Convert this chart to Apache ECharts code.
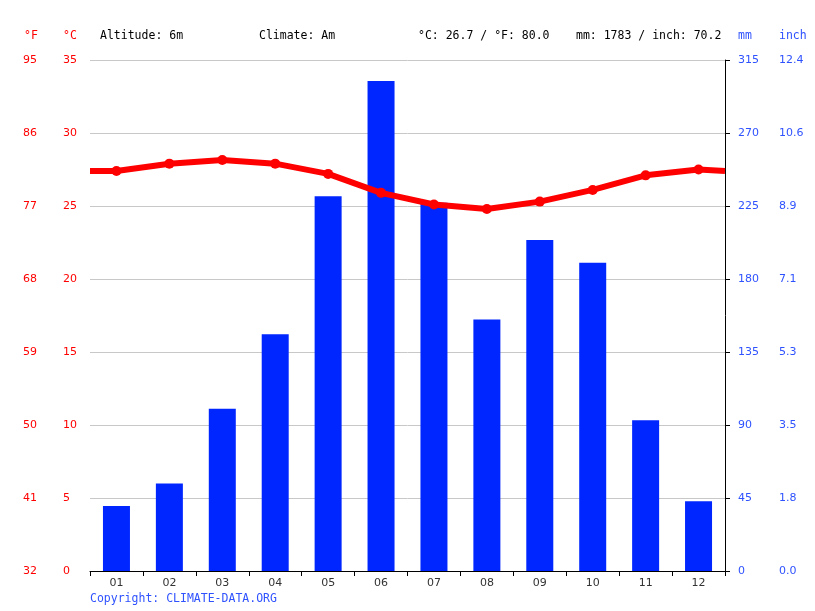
<!DOCTYPE html>
<html>
<head>
<meta charset="utf-8">
<script src="https://cdn.jsdelivr.net/npm/echarts@6/dist/echarts.min.js"></script>
<style>
  html, body { margin: 0; padding: 0; background: #fff; }
  #chart { width: 815px; height: 611px; }
</style>
</head>
<body>
<div id="chart"></div>
<script>
// monthly climate data
var months = ['01', '02', '03', '04', '05', '06', '07', '08', '09', '10', '11', '12'];
var rainMm = [40, 54, 100, 146, 231, 302, 227, 155, 204, 190, 93, 43];
var tempC = [27.4, 27.9, 28.15, 27.9, 27.2, 25.9, 25.1, 24.8, 25.3, 26.1, 27.1, 27.5];
var edgeTempC = 27.4; // where the line meets the plot edges

var altitude = 'Altitude: 6m';
var climate = 'Climate: Am';
var tempSummary = '°C: 26.7 / °F: 80.0';
var rainSummary = 'mm: 1783 / inch: 70.2';

var red = '#ff0000';
var blue = '#0026ff';
var lightBlue = '#2f52ff';
var mono = 'DejaVu Sans Mono';

var myChart = echarts.init(document.getElementById('chart'));

// line runs from the left edge to the right edge of the plot
var lineData = [[0, edgeTempC]];
tempC.forEach(function (t, i) { lineData.push([i + 0.5, t]); });
lineData.push([12, edgeTempC]);

function headerText(x, text, color) {
    return {
        type: 'text', left: x, top: 30,
        style: { text: text, fill: color || '#000', font: '11.5px "' + mono + '"' }
    };
}

var option = {
    backgroundColor: '#fff',
    animation: false,
    grid: { left: 90, right: 90, top: 60, bottom: 40 },
    graphic: [
        headerText(24, '°F', red),
        headerText(63, '°C', red),
        headerText(100, altitude),
        headerText(259, climate),
        headerText(418, tempSummary),
        headerText(576, rainSummary),
        headerText(738, 'mm', lightBlue),
        headerText(779, 'inch', lightBlue),
        {
            type: 'text', left: 90, top: 593,
            style: { text: 'Copyright: CLIMATE-DATA.ORG', fill: lightBlue, font: '11.5px "' + mono + '"' }
        }
    ],
    xAxis: [
        {
            type: 'category',
            data: months,
            boundaryGap: true,
            axisLine: { lineStyle: { color: '#000', width: 1 } },
            axisTick: { show: true, length: 5, lineStyle: { color: '#000' } },
            axisLabel: { color: '#333', fontFamily: 'DejaVu Sans', fontSize: 11, margin: 7 }
        },
        {
            type: 'value', min: 0, max: 12, show: false
        }
    ],
    yAxis: [
        {   // °C
            type: 'value', min: 0, max: 35, interval: 5, position: 'left',
            axisLine: { show: false }, axisTick: { show: false },
            splitLine: { lineStyle: { color: '#c8c8c8', width: 1 } },
            axisLabel: { color: red, fontFamily: 'DejaVu Sans', fontSize: 11, align: 'left', margin: 27 }
        },
        {   // °F, same scale as °C
            type: 'value', min: 0, max: 35, interval: 5, position: 'left',
            axisLine: { show: false }, axisTick: { show: false }, splitLine: { show: false },
            axisLabel: {
                color: red, fontFamily: 'DejaVu Sans', fontSize: 11, align: 'left', margin: 67,
                formatter: function (v) { return Math.round(v * 9 / 5 + 32); }
            }
        },
        {   // mm
            type: 'value', min: 0, max: 315, interval: 45, position: 'right',
            axisLine: { show: true, lineStyle: { color: '#000', width: 1 } },
            axisTick: { show: true, length: 5, lineStyle: { color: '#000' } },
            splitLine: { show: false },
            axisLabel: { color: lightBlue, fontFamily: 'DejaVu Sans', fontSize: 11, align: 'left', margin: 13 }
        },
        {   // inch, same scale as mm
            type: 'value', min: 0, max: 315, interval: 45, position: 'right',
            axisLine: { show: false }, axisTick: { show: false }, splitLine: { show: false },
            axisLabel: {
                color: lightBlue, fontFamily: 'DejaVu Sans', fontSize: 11, align: 'left', margin: 54,
                formatter: function (v) { return (v / 25.4).toFixed(1); }
            }
        }
    ],
    series: [
        {
            type: 'bar',
            xAxisIndex: 0,
            yAxisIndex: 2,
            data: rainMm,
            barWidth: 27,
            itemStyle: { color: blue }
        },
        {
            type: 'line',
            xAxisIndex: 1,
            yAxisIndex: 0,
            data: lineData,
            lineStyle: { color: red, width: 6 },
            itemStyle: { color: red },
            symbol: function (v) { return (v[0] === 0 || v[0] === 12) ? 'none' : 'circle'; },
            symbolSize: 10,
            z: 5
        }
    ]
};

myChart.setOption(option);
</script>
</body>
</html>
